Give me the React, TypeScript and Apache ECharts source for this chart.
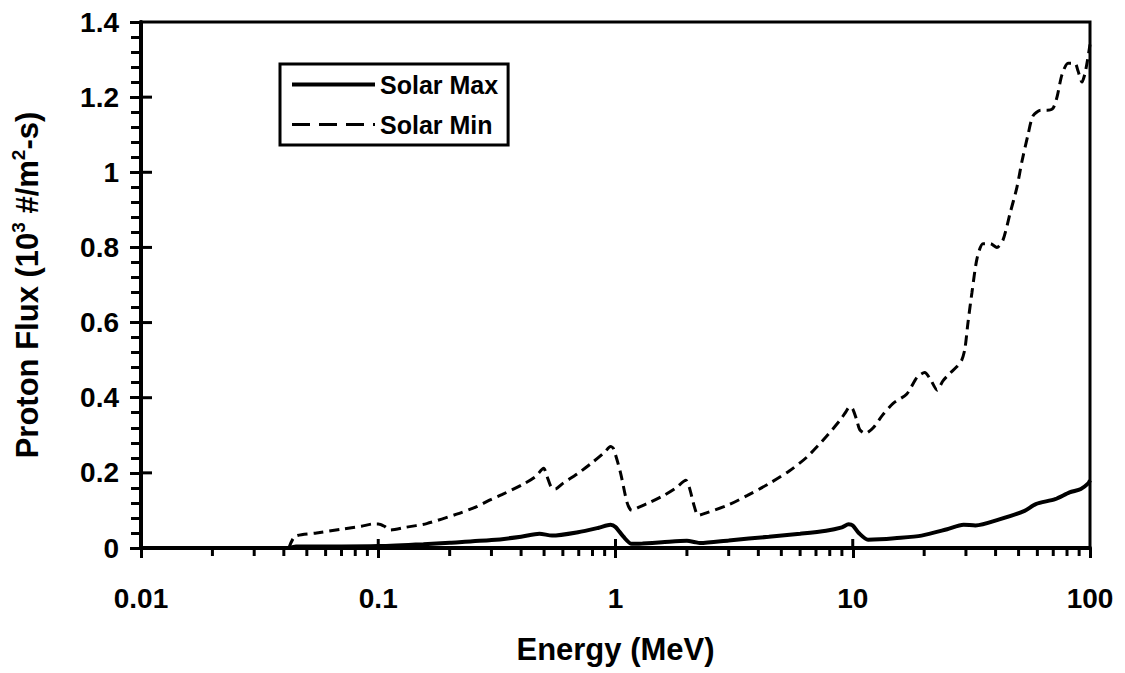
import React, { useEffect, useRef } from 'react';
import * as echarts from 'echarts';

const FONT = '"Liberation Sans", Arial, sans-serif';

// Solar Min (dashed) — energy in MeV, flux in 10^3 #/m^2-s
const solarMinEnergy = [
  0.042, 0.0446, 0.055, 0.07, 0.085, 0.095, 0.1, 0.106, 0.112, 0.13, 0.16, 0.214, 0.26, 0.296, 0.332,
  0.414, 0.46, 0.498, 0.515, 0.535, 0.557, 0.6, 0.7, 0.8, 0.9, 0.953, 0.98, 1.05, 1.12, 1.17, 1.25,
  1.4, 1.6, 1.8, 1.98, 2.05, 2.15, 2.23, 2.4, 3.0, 3.6, 4.43, 5.4, 6.41, 7.72, 8.84, 9.3, 9.73, 10.0,
  10.4, 10.7, 11.3, 12.2, 13.4, 14.8, 16.9, 18.7, 20.1, 21.2, 22.7, 24.0, 25.7, 27.5, 28.8, 29.7, 30.6,
  31.8, 33.4, 35.4, 38, 40.5, 43.0, 46.0, 49.2, 51.7, 54.8, 57.5, 62, 66, 69.8, 72.6, 76.2, 80.8, 86.4,
  89, 92.5, 95, 97.1, 100,
];
const solarMinFlux = [
  0, 0.031, 0.04, 0.05, 0.058, 0.064, 0.064, 0.058, 0.048, 0.055, 0.065, 0.09, 0.11, 0.128, 0.142,
  0.172, 0.19, 0.212, 0.19, 0.163, 0.157, 0.172, 0.2, 0.228, 0.255, 0.27, 0.265, 0.2, 0.12, 0.1, 0.108,
  0.122, 0.14, 0.16, 0.18, 0.16, 0.11, 0.087, 0.093, 0.115, 0.14, 0.171, 0.205, 0.242, 0.296, 0.34, 0.36,
  0.376, 0.37, 0.34, 0.315, 0.305, 0.32, 0.355, 0.385, 0.41, 0.455, 0.467, 0.45, 0.42, 0.445, 0.465,
  0.483, 0.5, 0.53, 0.6, 0.68, 0.77, 0.81, 0.81, 0.8, 0.82, 0.89, 0.96, 1.03, 1.1, 1.15, 1.165, 1.165,
  1.17, 1.2, 1.26, 1.29, 1.29, 1.27, 1.24, 1.26, 1.29, 1.34,
];

// Solar Max (solid)
const solarMaxEnergy = [
  0.042, 0.045, 0.07, 0.1, 0.155, 0.2, 0.3, 0.4, 0.478, 0.54, 0.695, 0.85, 0.953, 1.0, 1.08, 1.17, 1.3,
  1.57, 2.0, 2.15, 2.27, 3.0, 4.43, 6.0, 7.72, 9.0, 9.6, 10.0, 10.6, 11.6, 13, 15, 19.5, 25, 29.3, 32.9,
  41.5, 53.0, 59.1, 71.3, 82, 91.5, 98.3, 100,
];
const solarMaxFlux = [
  0, 0.004, 0.004, 0.005, 0.01, 0.014, 0.021, 0.03, 0.038, 0.033, 0.042, 0.054, 0.062, 0.056, 0.03, 0.011,
  0.012, 0.015, 0.019, 0.016, 0.013, 0.02, 0.03, 0.038, 0.046, 0.055, 0.063, 0.06, 0.04, 0.022, 0.023,
  0.026, 0.033, 0.05, 0.062, 0.06, 0.076, 0.099, 0.117, 0.13, 0.148, 0.157, 0.172, 0.18,
];

const xTickLabels = ['0.01', '0.1', '1', '10', '100'];
const yTickLabels = ['0', '0.2', '0.4', '0.6', '0.8', '1', '1.2', '1.4'];
const xMinorTickValues = [
  0.02, 0.03, 0.04, 0.05, 0.06, 0.07, 0.08, 0.09,
  0.2, 0.3, 0.4, 0.5, 0.6, 0.7, 0.8, 0.9,
  2, 3, 4, 5, 6, 7, 8, 9,
  20, 30, 40, 50, 60, 70, 80, 90,
];
const xMajorInnerTicks = [0.1, 1, 10];
const yMajorInnerTicks = [0.2, 0.4, 0.6, 0.8, 1.0, 1.2];

function zip(a: number[], b: number[]) {
  return a.map((v, i) => [v, b[i]]);
}

export default function App() {
  const ref = useRef<HTMLDivElement>(null);
  useEffect(() => {
    if (!ref.current) return;
    const chart = echarts.init(ref.current, undefined, { renderer: 'svg' });
    const option: any = {
      animation: false,
      backgroundColor: '#fff',
      grid: {
        left: 141,
        right: 35,
        top: 22,
        bottom: 125,
        show: true,
        borderColor: '#000',
        borderWidth: 3,
      },
      legend: {
        data: [
          { name: 'Solar Max', lineStyle: { width: 4, type: 'solid' } },
          { name: 'Solar Min', lineStyle: { width: 3, type: [18, 9] } },
        ],
        orient: 'vertical',
        left: 280,
        top: 64,
        itemWidth: 83,
        itemHeight: 14,
        itemGap: 15,
        padding: [8, 10, 8, 10],
        borderColor: '#000',
        borderWidth: 3,
        itemStyle: { opacity: 0 },
        textStyle: { fontSize: 25, fontWeight: 'bold', fontFamily: FONT, color: '#000' },
      },
      xAxis: {
        type: 'log',
        logBase: 10,
        min: 0.01,
        max: 100,
        name: 'Energy (MeV)',
        nameLocation: 'middle',
        nameGap: 86,
        nameTextStyle: { fontSize: 31, fontWeight: 'bold', fontFamily: FONT, color: '#000' },
        axisLine: { lineStyle: { color: '#000', width: 4 } },
        axisTick: { length: 10, lineStyle: { color: '#000', width: 3 } },
        splitLine: { show: false },
        axisLabel: {
          margin: 36,
          fontSize: 28,
          fontWeight: 'bold',
          fontFamily: FONT,
          color: '#000',
          formatter: (v: number) => xTickLabels[Math.round(Math.log10(v)) + 2] ?? '',
        },
      },
      yAxis: {
        type: 'value',
        min: 0,
        max: 1.4,
        interval: 0.2,
        name: '{a|Proton Flux (10}{s|3}{a| #/m}{s|2}{a|-s)}',
        nameLocation: 'middle',
        nameGap: 96,
        nameTextStyle: {
          rich: {
            a: { fontSize: 31, fontWeight: 'bold', fontFamily: FONT, color: '#000', lineHeight: 36 },
            s: { fontSize: 19, fontWeight: 'bold', fontFamily: FONT, color: '#000', verticalAlign: 'top', lineHeight: 36 },
          },
        },
        axisLine: { lineStyle: { color: '#000', width: 4 } },
        axisTick: { length: 11, lineStyle: { color: '#000', width: 3 } },
        minorTick: { show: true, splitNumber: 5, length: 10, lineStyle: { color: '#000', width: 3 } },
        splitLine: { show: false },
        axisLabel: {
          margin: 22,
          fontSize: 28,
          fontWeight: 'bold',
          fontFamily: FONT,
          color: '#000',
          formatter: (v: number) => yTickLabels[Math.round(v / 0.2)] ?? '',
        },
      },
      series: [
        {
          name: 'Solar Max',
          type: 'line',
          data: zip(solarMaxEnergy, solarMaxFlux),
          showSymbol: false,
          symbol: 'none',
          smooth: 0.25,
          lineStyle: { color: '#000', width: 4, type: 'solid' },
          itemStyle: { color: '#000' },
        },
        {
          name: 'Solar Min',
          type: 'line',
          data: zip(solarMinEnergy, solarMinFlux),
          showSymbol: false,
          symbol: 'none',
          smooth: 0.25,
          lineStyle: { color: '#000', width: 3, type: [10, 6] },
          itemStyle: { color: '#000' },
        },
        {
          name: 'xMinor',
          type: 'custom',
          data: xMinorTickValues.map((v) => [v, 0]),
          renderItem: (params: any, api: any) => {
            const p = api.coord([api.value(0), 0]);
            return {
              type: 'line',
              shape: { x1: p[0], y1: p[1], x2: p[0], y2: p[1] + 8 },
              style: { stroke: '#000', lineWidth: 3 },
            };
          },
          silent: true,
        },
        {
          name: 'xMajorInner',
          type: 'custom',
          data: xMajorInnerTicks.map((v) => [v, 0]),
          renderItem: (params: any, api: any) => {
            const p = api.coord([api.value(0), 0]);
            return {
              type: 'line',
              shape: { x1: p[0], y1: p[1], x2: p[0], y2: p[1] - 9 },
              style: { stroke: '#000', lineWidth: 3 },
            };
          },
          silent: true,
        },
        {
          name: 'yMajorInner',
          type: 'custom',
          data: yMajorInnerTicks.map((v) => [0.01, v]),
          renderItem: (params: any, api: any) => {
            const p = api.coord([0.01, api.value(1)]);
            return {
              type: 'line',
              shape: { x1: p[0], y1: p[1], x2: p[0] + 11, y2: p[1] },
              style: { stroke: '#000', lineWidth: 3 },
            };
          },
          silent: true,
        },
      ],
    };
    chart.setOption(option);
    return () => chart.dispose();
  }, []);
  return (
    <div
      ref={ref}
      style={{ position: 'fixed', left: 0, top: 0, width: 1125, height: 673, background: '#fff' }}
    />
  );
}
